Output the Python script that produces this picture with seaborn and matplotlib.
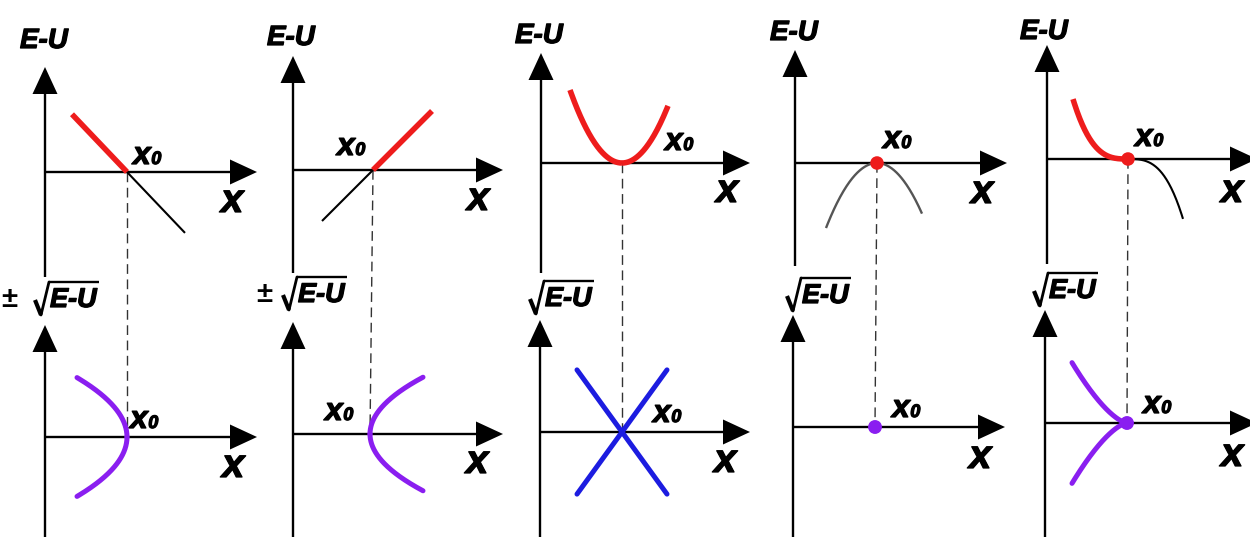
import numpy as np
import matplotlib
matplotlib.use("Agg")
import matplotlib.pyplot as plt
import matplotlib.patheffects as pe
from matplotlib.patches import Polygon
import seaborn as sns

sns.set_theme(style="white")
plt.rcParams["font.family"] = ["Liberation Sans", "DejaVu Sans"]
plt.rcParams["text.color"] = "black"

W, H = 1250, 537

# ---- layout of the five panel pairs (pixel space, y grows downward) ----
axis_x_top = [45, 293, 541, 795, 1047]
axis_x_bot = [45, 293, 540, 793, 1045]
xaxis_y_top = [172, 170, 163, 163, 159]
xaxis_y_bot = [437, 434, 432, 427, 423]
yaxis_tip_top = [67, 56, 53, 50, 45]
yaxis_end_top = [277, 273, 273, 266, 264]
yaxis_tip_bot = [325, 322, 320, 315, 310]
xaxis_tip_top = [257, 503, 750, 1007, 1257]
xaxis_tip_bot = [257, 503, 750, 1005, 1257]
x0_top = [127, 373, 622, 877, 1128]
x0_bot = [127, 370, 622, 875, 1127]

# ---- shape of E-U near the turning point x0 ----
# E-U = coef * (x - x0)^power
eu_power = [1, 1, 2, 2, 3]
eu_coef = [-1.05, 1.0, 0.027, -0.025, -3.6e-4]
top_dx_left = [-55, -51, -52, -51, -55]
top_dx_right = [58, 59, 46, 45, 55]
neg_color = ["black", "black", "black", "#555555", "black"]
neg_lw = [1.5, 1.5, 1.5, 1.7, 1.5]
top_dot = [False, False, False, True, True]

# ---- sqrt(E-U) branches ----
bot_dx_left = [-50, 0, -45, 0, -55]
bot_dx_right = [0, 53, 45, 0, 0]
bot_scale = [8.2, 7.8, 8.4, 8.0, 7.8]
bot_color = ["#8a1ef0", "#8a1ef0", "#1c1ce0", "#8a1ef0", "#8a1ef0"]
bot_dot = [False, False, False, True, True]

# ---- text placement ----
eu_label_pos = [(20, 48), (267, 45), (515, 43), (770, 40), (1020, 39)]
sqrt_label_pos = [(50, 307), (298, 302), (545, 306), (802, 303), (1049, 298)]
pm_label_x = [1, 256, None, None, None]
x0_label_top = [(133, 164), (337, 155), (665, 150), (883, 148), (1135, 146)]
x0_label_bot = [(130, 428), (325, 420), (653, 422), (892, 417), (1143, 413)]
x_label_top = [(221, 212), (467, 210), (716, 202), (971, 203), (1221, 202)]
x_label_bot = [(222, 477), (466, 473), (714, 472), (969, 468), (1221, 466)]

RED = "#ee1c1c"
HEAVY = [pe.withStroke(linewidth=0.9, foreground="black")]
FONT = dict(fontweight="bold", fontstyle="italic", color="black",
            family=["Liberation Sans", "DejaVu Sans"], path_effects=HEAVY)

fig = plt.figure(figsize=(W / 100, H / 100), dpi=100)
ax = fig.add_axes([0, 0, 1, 1])
ax.set_xlim(0, W)
ax.set_ylim(H, 0)
ax.set_autoscale_on(False)
ax.set_axis_off()
renderer = fig.canvas.get_renderer()

HEAD_LEN, HEAD_HW = 27, 12.5


def draw_axes(ox, oy, ytip, yend, xtip):
    ax.plot([ox, ox], [yend, ytip + HEAD_LEN - 2], color="black", lw=1.7,
            solid_capstyle="butt", zorder=2)
    ax.plot([ox, xtip - HEAD_LEN + 2], [oy, oy], color="black", lw=1.7,
            solid_capstyle="butt", zorder=2)
    ax.add_patch(Polygon([(ox, ytip), (ox - HEAD_HW, ytip + HEAD_LEN),
                          (ox + HEAD_HW, ytip + HEAD_LEN)], closed=True,
                         facecolor="black", edgecolor="none", zorder=2))
    ax.add_patch(Polygon([(xtip, oy), (xtip - HEAD_LEN, oy - HEAD_HW),
                          (xtip - HEAD_LEN, oy + HEAD_HW)], closed=True,
                         facecolor="black", edgecolor="none", zorder=2))


def right_edge(txt):
    bb = txt.get_window_extent(renderer=renderer)
    return bb.x1  # display x equals data x here


def x0_label(x, y):
    t = ax.text(x, y, "x", fontsize=23, ha="left", va="baseline", **FONT)
    ax.text(right_edge(t) + 0.5, y, "0", fontsize=13, ha="left", va="baseline", **FONT)


def sqrt_label(L, B, prefix_x):
    t = ax.text(L, B, "E-U", fontsize=19.5, ha="left", va="baseline", **FONT)
    R = right_edge(t)
    top = B - 25
    ax.plot([L - 15, L - 9], [B - 7, B + 8], color="black", lw=3.0,
            solid_capstyle="butt", zorder=3)
    ax.plot([L - 9, L - 1], [B + 8, top], color="black", lw=2.0,
            solid_capstyle="round", zorder=3)
    ax.plot([L - 1.5, R + 2], [top, top], color="black", lw=1.7,
            solid_capstyle="butt", zorder=3)
    if prefix_x is not None:
        ax.text(prefix_x, B, "\u00b1", fontsize=21, fontweight="bold",
                color="black", ha="left", va="baseline",
                family=["Liberation Sans", "DejaVu Sans"])


def side_grid(d):
    # dense near x0 so the vertical tangents of the square roots stay smooth
    t = np.linspace(0.0, 1.0, 160)
    return d * t ** 2


for i in range(5):
    oxt, oyt = axis_x_top[i], xaxis_y_top[i]
    oxb, oyb = axis_x_bot[i], xaxis_y_bot[i]

    draw_axes(oxt, oyt, yaxis_tip_top[i], yaxis_end_top[i], xaxis_tip_top[i])
    draw_axes(oxb, oyb, yaxis_tip_bot[i], H + 5, xaxis_tip_bot[i])

    # dashed guide from x0 on the upper graph to x0 on the lower one
    ax.plot([x0_top[i], x0_bot[i]], [oyt, oyb], color="#333333", lw=1.0,
            linestyle=(0, (7, 4)), zorder=1)

    # upper graph: E-U, red where motion is allowed (E-U >= 0)
    for d in (top_dx_left[i], top_dx_right[i]):
        dx = side_grid(d)
        eu = eu_coef[i] * dx ** eu_power[i]
        ys = oyt - eu
        xs = x0_top[i] + dx
        if np.all(eu[1:] > 0):
            sns.lineplot(x=xs, y=ys, ax=ax, color=RED, lw=4.0, sort=False,
                         estimator=None, solid_capstyle="butt", zorder=4)
        else:
            sns.lineplot(x=xs, y=ys, ax=ax, color=neg_color[i], lw=neg_lw[i],
                         sort=False, estimator=None, solid_capstyle="butt", zorder=3)
    if top_dot[i]:
        sns.scatterplot(x=[x0_top[i]], y=[oyt], ax=ax, s=95, color=RED,
                        edgecolor="none", zorder=5)

    # lower graph: +/- sqrt(E-U)
    for d in (bot_dx_left[i], bot_dx_right[i]):
        if d == 0:
            continue
        dx = side_grid(d)
        eu = eu_coef[i] * dx ** eu_power[i]
        r = bot_scale[i] * np.sqrt(np.clip(eu, 0, None))
        xs = x0_bot[i] + dx
        for sign in (-1, 1):
            sns.lineplot(x=xs, y=oyb + sign * r, ax=ax, color=bot_color[i],
                         lw=3.6, sort=False, estimator=None,
                         solid_capstyle="round", zorder=4)
    if bot_dot[i]:
        sns.scatterplot(x=[x0_bot[i]], y=[oyb], ax=ax, s=100, color=bot_color[i],
                        edgecolor="none", zorder=5)

    # labels
    ex, ey = eu_label_pos[i]
    ax.text(ex, ey, "E-U", fontsize=20, ha="left", va="baseline", **FONT)
    sx, sy = sqrt_label_pos[i]
    sqrt_label(sx, sy, pm_label_x[i])
    x0_label(*x0_label_top[i])
    x0_label(*x0_label_bot[i])
    for (lx, ly) in (x_label_top[i], x_label_bot[i]):
        ax.text(lx, ly, "x", fontsize=29, ha="left", va="baseline", **FONT)

if ax.get_legend() is not None:
    ax.get_legend().remove()

fig.savefig("out.png", dpi=100)
